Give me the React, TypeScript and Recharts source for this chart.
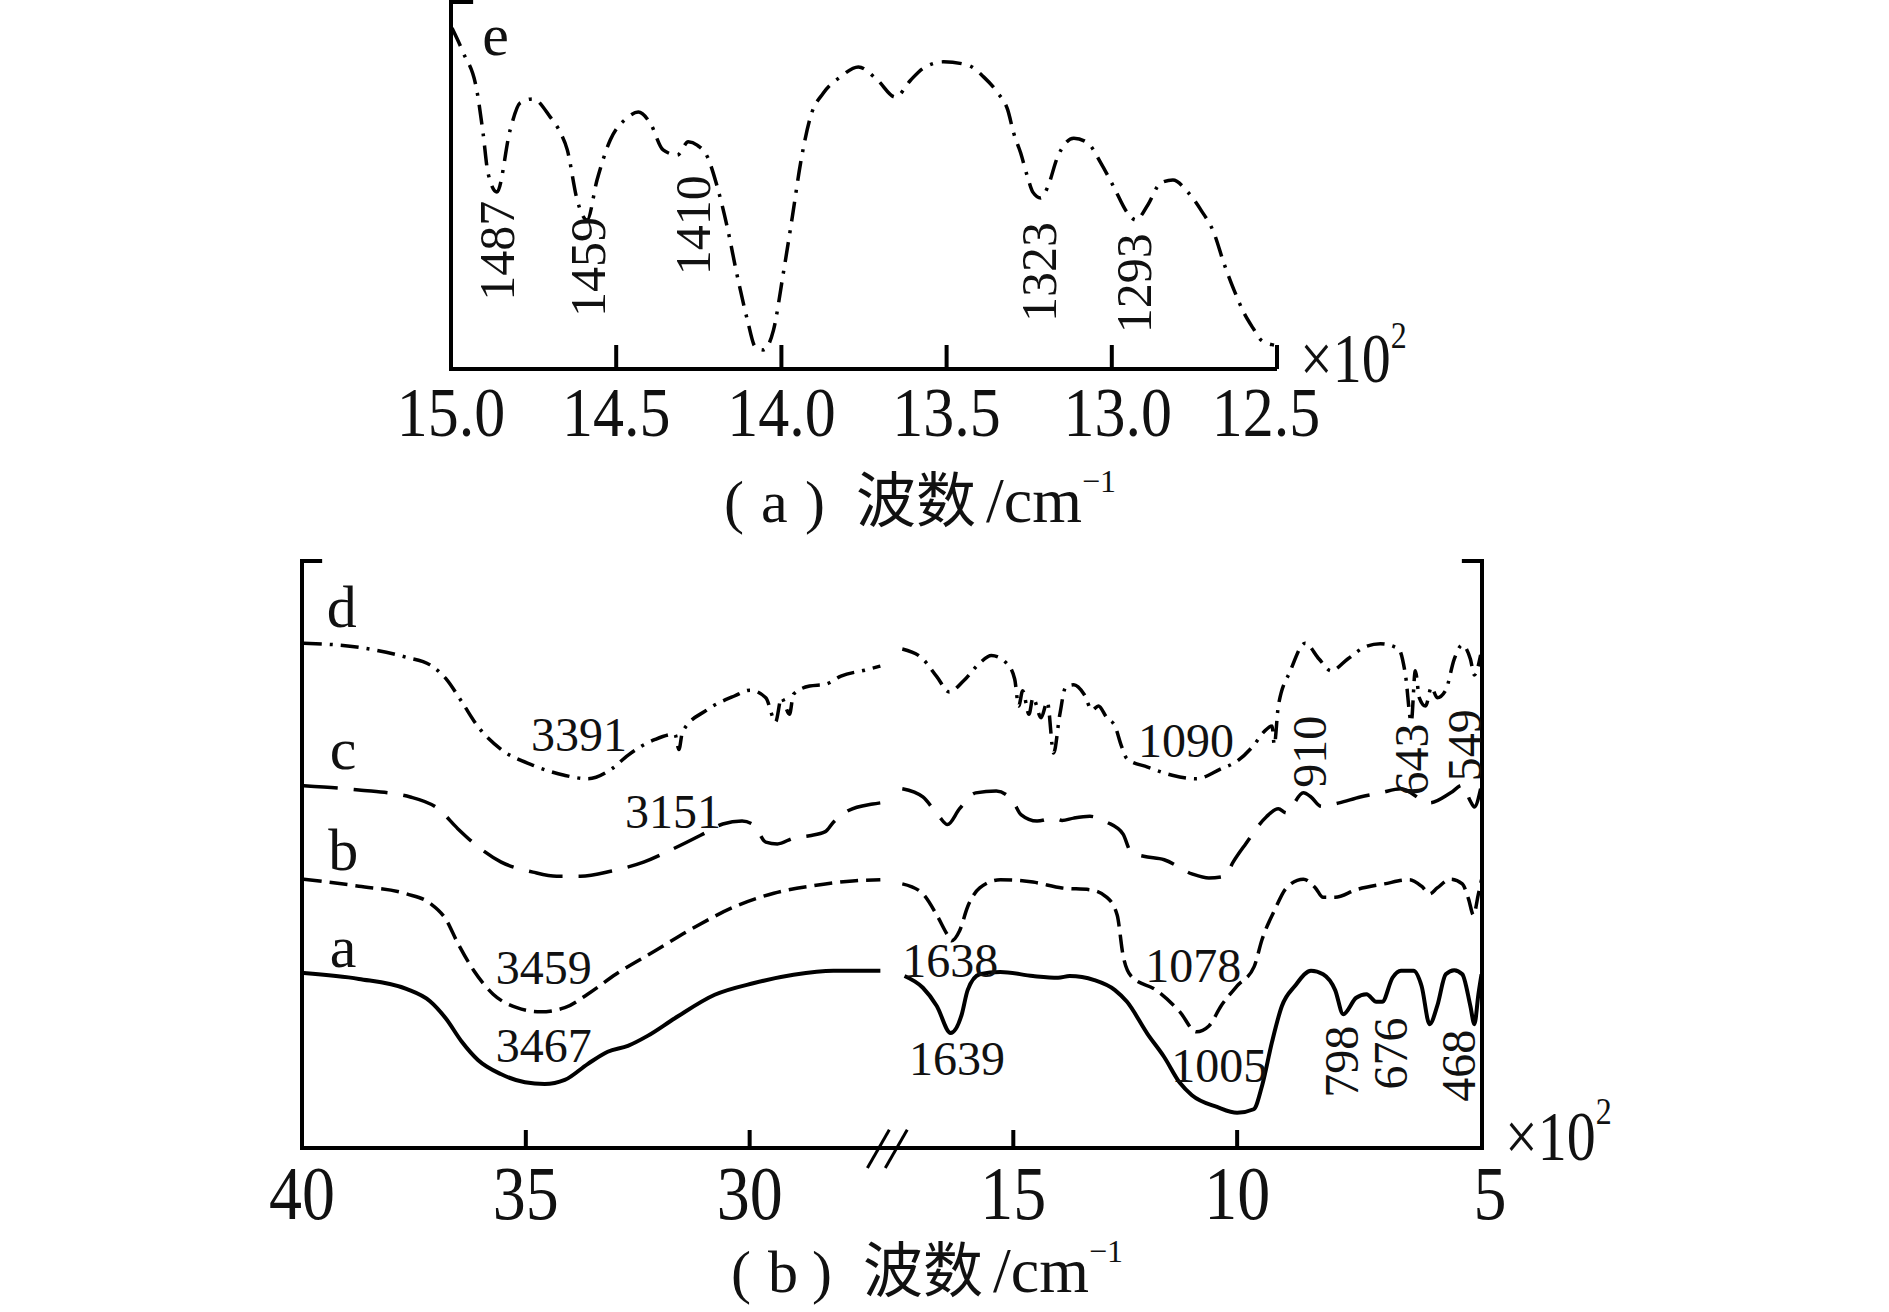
import React from "react";
import { LineChart, Line, XAxis, YAxis, ReferenceLine, ReferenceDot } from "recharts";

const SERIF = "'Liberation Serif', 'Times New Roman', serif";
const CJK = "'Noto Sans CJK SC', 'Liberation Serif', serif";
const INK = "#111";

// ---------- (a) detail 1500-1250 cm-1, curve e (x in 10^2 cm-1, y = relative transmittance) ----------
const E_TICKS = [15.0, 14.5, 14.0, 13.5, 13.0, 12.5];

const CURVE_E: [number, number][] = [
  [14.997, 92.9], [14.964, 86.4], [14.921, 75.5], [14.903, 64.3], [14.888, 53.4], [14.861, 48.2],
  [14.821, 65.1], [14.791, 72.5], [14.752, 73.6], [14.7, 68.7], [14.67, 64.6], [14.648, 59.7],
  [14.618, 46.0], [14.588, 40.6], [14.558, 51.5], [14.518, 62.4], [14.467, 68.4], [14.433, 70.0],
  [14.397, 67.0], [14.358, 59.7], [14.315, 58.3], [14.282, 61.9], [14.255, 61.0], [14.224, 57.8],
  [14.194, 49.6], [14.164, 38.7], [14.133, 25.1], [14.103, 13.4], [14.079, 6.0], [14.055, 5.2],
  [14.024, 10.6], [13.994, 26.2], [13.967, 41.4], [13.942, 56.1], [13.912, 68.7], [13.873, 75.2],
  [13.821, 79.6], [13.767, 82.3], [13.709, 78.7], [13.655, 74.1], [13.609, 78.7], [13.57, 82.0],
  [13.509, 83.7], [13.436, 82.8], [13.388, 79.6], [13.345, 75.2], [13.315, 70.6], [13.297, 64.3],
  [13.276, 58.9], [13.255, 52.3], [13.239, 48.2], [13.215, 46.6], [13.194, 49.6], [13.164, 57.8],
  [13.115, 62.9], [13.073, 61.6], [13.033, 56.1], [12.994, 49.6], [12.952, 42.5], [12.927, 40.6],
  [12.891, 44.7], [12.852, 50.7], [12.815, 51.5], [12.77, 48.2], [12.73, 43.3], [12.691, 37.1],
  [12.661, 28.9], [12.63, 21.5], [12.6, 15.3], [12.573, 11.2], [12.548, 7.9], [12.509, 6.5],
];

const E_PEAKS = [
  { text: "1487", w: 14.861, v: 32.2 },
  { text: "1459", w: 14.585, v: 27.8 },
  { text: "1410", w: 14.267, v: 39.2 },
  { text: "1323", w: 13.221, v: 26.4 },
  { text: "1293", w: 12.933, v: 23.4 },
];
const E_NAME = { text: "e", w: 14.865, v: 85.6 };

// ---------- (b) full spectra a-d, axis broken between ~2700 and ~1750 cm-1 ----------
const B_TICK_LABELS = ["40", "35", "30", "15", "10", "5"];
const B_TICK_WAVES = [40, 35, 30, 15, 10, 4.53]; // the "5" sits at the end of the axis

const CURVE_A: [number, number][] = [
  [39.96, 29.8], [38.73, 28.8], [37.67, 27.1], [37.14, 25.0], [36.79, 22.1], [36.43, 18.1],
  [36.07, 15.0], [35.56, 12.6], [35.02, 11.2], [34.58, 10.9], [34.13, 11.6], [33.62, 14.3],
  [33.17, 16.4], [32.72, 17.4], [32.28, 19.1], [31.67, 22.1], [30.78, 26.1], [29.9, 28.1],
  [29.02, 29.5], [28.13, 30.2], [27.08, 30.2],
  [17.43, 29.3], [17.02, 27.3], [16.71, 24.2], [16.4, 19.6], [16.15, 22.8], [16.02, 26.9],
  [15.75, 29.6], [15.29, 30.0], [14.56, 29.3], [14.0, 29.0], [13.74, 29.3], [13.19, 28.6],
  [12.73, 26.9], [12.46, 24.9], [12.0, 19.4], [11.63, 15.5], [11.28, 11.1], [11.01, 9.0],
  [10.45, 7.0], [10.0, 6.0], [9.63, 6.6], [9.44, 10.7], [9.22, 18.1], [9.0, 24.2], [8.71, 27.6],
  [8.35, 30.2], [8.08, 29.6], [7.81, 26.9], [7.63, 22.8], [7.34, 25.6], [7.11, 26.2], [6.89, 24.9],
  [6.76, 24.9], [6.53, 29.0], [6.34, 30.2], [6.06, 30.2], [5.88, 27.6], [5.7, 21.1], [5.53, 24.2],
  [5.34, 29.6], [5.15, 30.3], [4.97, 29.6], [4.79, 24.2], [4.7, 21.1], [4.61, 26.2], [4.54, 29.6],
];

const CURVE_B: [number, number][] = [
  [39.96, 45.8], [38.73, 44.6], [37.67, 43.3], [37.14, 41.7], [36.79, 39.0], [36.52, 34.9],
  [36.16, 30.2], [35.73, 26.2], [35.2, 23.9], [34.67, 23.2], [34.13, 23.9], [33.62, 26.2],
  [32.99, 29.6], [32.11, 33.6], [31.23, 37.6], [30.34, 41.1], [29.46, 43.4], [28.57, 44.7],
  [27.7, 45.5], [27.08, 45.7],
  [17.48, 45.0], [17.02, 43.3], [16.71, 39.7], [16.47, 36.3], [16.38, 35.3], [16.2, 37.0],
  [16.02, 41.1], [15.75, 44.3], [15.29, 45.7], [14.56, 45.3], [13.91, 44.3], [13.29, 44.0],
  [12.91, 42.7], [12.68, 39.7], [12.55, 32.9], [12.37, 29.3], [11.81, 26.9], [11.28, 23.2],
  [10.91, 19.8], [10.63, 20.8], [10.36, 24.2], [10.0, 27.6], [9.62, 30.9], [9.44, 35.6],
  [9.17, 40.4], [8.9, 44.3], [8.52, 45.8], [8.25, 44.3], [8.08, 42.7], [7.81, 42.7], [7.34, 44.0],
  [6.71, 45.0], [6.15, 45.7], [5.88, 44.6], [5.7, 43.3], [5.53, 44.3], [5.23, 45.8], [4.97, 45.0],
  [4.83, 42.4], [4.72, 39.7], [4.61, 43.3], [4.54, 45.7],
];

const CURVE_C: [number, number][] = [
  [39.96, 61.7], [38.73, 61.0], [37.58, 59.8], [36.96, 57.8], [36.52, 54.4], [36.08, 51.4],
  [35.55, 48.7], [34.84, 47.0], [34.31, 46.3], [33.78, 46.3], [33.08, 47.2], [32.37, 48.7],
  [31.67, 51.1], [30.96, 53.8], [30.6, 55.2], [30.17, 55.7], [29.9, 55.0], [29.64, 52.1],
  [29.38, 51.8], [29.02, 52.8], [28.66, 53.2], [28.31, 53.9], [28.13, 55.5], [27.79, 57.5],
  [27.25, 58.6], [27.08, 58.8],
  [17.48, 61.2], [17.02, 59.8], [16.66, 56.5], [16.47, 55.1], [16.2, 57.8], [15.84, 60.5],
  [15.38, 60.8], [15.01, 59.1], [14.83, 56.8], [14.47, 55.7], [14.1, 56.2], [13.91, 55.8],
  [13.65, 56.2], [13.29, 56.5], [12.91, 55.5], [12.55, 53.5], [12.37, 50.4], [12.09, 49.7],
  [11.63, 49.1], [11.01, 46.7], [10.63, 46.0], [10.27, 46.3], [10.09, 48.7], [9.81, 51.8],
  [9.35, 56.4], [9.08, 57.8], [8.9, 57.1], [8.81, 57.8], [8.52, 60.5], [8.35, 59.8], [8.12, 58.2],
  [7.72, 58.8], [7.25, 59.8], [6.8, 60.5], [6.34, 61.2], [5.7, 58.8], [5.23, 60.5], [4.97, 61.8],
  [4.79, 59.1], [4.7, 58.1], [4.56, 61.2],
];

const CURVE_D: [number, number][] = [
  [39.96, 86.0], [38.73, 85.3], [37.67, 83.6], [37.14, 82.3], [36.79, 80.0], [36.43, 76.0],
  [36.08, 71.9], [35.55, 67.9], [34.84, 65.2], [34.14, 63.5], [33.62, 62.9], [33.08, 64.6],
  [32.72, 66.9], [32.11, 69.6], [31.67, 70.5], [31.58, 67.9], [31.5, 70.9], [30.96, 74.6],
  [30.34, 77.0], [29.99, 78.0], [29.64, 76.7], [29.42, 72.6], [29.29, 76.7], [29.11, 73.9],
  [29.02, 77.3], [28.66, 78.7], [28.31, 79.0], [27.96, 80.4], [27.43, 81.4], [27.08, 82.1],
  [17.48, 85.0], [17.02, 83.3], [16.71, 80.3], [16.43, 77.7], [16.11, 79.6], [15.75, 82.6],
  [15.49, 83.9], [15.15, 82.6], [14.97, 79.9], [14.88, 75.3], [14.79, 77.9], [14.65, 73.9],
  [14.56, 76.7], [14.38, 73.3], [14.24, 76.0], [14.1, 67.3], [13.96, 73.9], [13.83, 78.5],
  [13.65, 78.9], [13.42, 77.3], [13.24, 74.6], [13.1, 75.3], [12.91, 73.3], [12.73, 71.9],
  [12.59, 68.6], [12.46, 66.3], [12.0, 64.9], [11.45, 63.5], [10.91, 62.9], [10.36, 64.6],
  [10.0, 65.9], [9.63, 68.6], [9.4, 70.9], [9.22, 71.9], [9.17, 68.7], [9.08, 75.3], [8.81, 81.3],
  [8.48, 86.0], [8.17, 83.3], [7.9, 81.3], [7.53, 83.3], [7.16, 85.3], [6.8, 85.9], [6.39, 85.0],
  [6.24, 80.6], [6.11, 72.6], [6.02, 81.3], [5.93, 76.7], [5.79, 75.3], [5.66, 78.5], [5.53, 76.7],
  [5.34, 78.0], [5.15, 83.3], [4.97, 85.7], [4.79, 83.3], [4.7, 80.6], [4.56, 84.0],
];

const B_PEAKS = [
  { text: "3391", w: 33.81, v: 70.4, rotate: false },
  { text: "3151", w: 31.71, v: 57.3, rotate: false },
  { text: "3459", w: 34.6, v: 30.7, rotate: false },
  { text: "3467", w: 34.6, v: 17.5, rotate: false },
  { text: "1638", w: 16.41, v: 31.9, rotate: false },
  { text: "1639", w: 16.26, v: 15.3, rotate: false },
  { text: "1090", w: 11.14, v: 69.4, rotate: false },
  { text: "1078", w: 10.98, v: 31.1, rotate: false },
  { text: "1005", w: 10.4, v: 14.1, rotate: false },
  { text: "910", w: 8.39, v: 67.5, rotate: true },
  { text: "643", w: 6.09, v: 66.2, rotate: true },
  { text: "549", w: 4.92, v: 68.6, rotate: true },
  { text: "798", w: 7.66, v: 14.7, rotate: true },
  { text: "676", w: 6.58, v: 16.1, rotate: true },
  { text: "468", w: 5.04, v: 14.0, rotate: true },
];

const B_NAMES = [
  { text: "d", w: 39.11, v: 88.8 },
  { text: "c", w: 39.08, v: 64.6 },
  { text: "b", w: 39.08, v: 47.4 },
  { text: "a", w: 39.08, v: 30.9 },
];

// broken axis: 40..27 on the left, 17.5..4.5 on the right, same scale
const BREAK_SHIFT = 9.11;
const toU = (w: number) => (w > 22 ? 40 - w : 40 - BREAK_SHIFT - w);
const U_MAX = toU(4.53);
const B_TICKS_U = B_TICK_WAVES.map(toU);

function buildSeries(points: [number, number][]) {
  const rows: { u: number; v: number | null }[] = [];
  points.forEach(([w, v], i) => {
    if (i > 0 && points[i - 1][0] > 22 && w <= 22) {
      rows.push({ u: (toU(points[i - 1][0]) + toU(w)) / 2, v: null });
    }
    rows.push({ u: toU(w), v });
  });
  return rows;
}

const dataE = CURVE_E.map(([w, v]) => ({ w, v }));
const dataA = buildSeries(CURVE_A);
const dataB = buildSeries(CURVE_B);
const dataC = buildSeries(CURVE_C);
const dataD = buildSeries(CURVE_D);

function makeLabel(text: string, size: number, rotate: boolean, centered: boolean) {
  return (props: any) => {
    const vb = props.viewBox ?? props;
    const cx = vb.x + (vb.width ?? 0) / 2;
    const cy = vb.y + (vb.height ?? 0) / 2;
    return (
      <text
        x={cx}
        y={cy}
        dy={centered ? "0.34em" : 0}
        textAnchor="middle"
        fontFamily={SERIF}
        fontSize={size}
        fill={INK}
        transform={rotate ? `rotate(-90 ${cx} ${cy})` : undefined}
      >
        {text}
      </text>
    );
  };
}

function TopTick({ x, y, payload }: any) {
  const value = Number(payload.value);
  const inner = Math.abs(value - 15) > 0.01;
  // the printed labels sit slightly off their ticks in the original
  const shift = Math.abs(value - 12.5) < 0.01 ? -11 : Math.abs(value - 13) < 0.01 ? 6 : 0;
  return (
    <g>
      {inner && <line x1={x} x2={x} y1={y} y2={y - 24} stroke="#000" strokeWidth={4} />}
      <g transform={`translate(${x + shift},${y + 67}) scale(1,1.12)`}>
        <text textAnchor="middle" fontFamily={SERIF} fontSize={62} fill={INK}>
          {value.toFixed(1)}
        </text>
      </g>
    </g>
  );
}

function BottomTick({ x, y, payload }: any) {
  let idx = 0;
  B_TICKS_U.forEach((u, i) => {
    if (Math.abs(u - payload.value) < Math.abs(B_TICKS_U[idx] - payload.value)) idx = i;
  });
  const inner = idx > 0 && idx < B_TICKS_U.length - 1;
  const shift = idx === B_TICKS_U.length - 1 ? 8 : 0;
  return (
    <g>
      {inner && <line x1={x} x2={x} y1={y} y2={y - 18} stroke="#000" strokeWidth={4} />}
      <g transform={`translate(${x + shift},${y + 71}) scale(1,1.15)`}>
        <text textAnchor="middle" fontFamily={SERIF} fontSize={66} fill={INK}>
          {B_TICK_LABELS[idx]}
        </text>
      </g>
    </g>
  );
}

function Caption({ x, y, letter }: { x: number; y: number; letter: string }) {
  return (
    <text y={y} fontFamily={SERIF} fontSize={60} fill={INK}>
      <tspan x={x}>(</tspan>
      <tspan x={x + 37}>{letter}</tspan>
      <tspan x={x + 81}>)</tspan>
      <tspan x={x + 132} fontFamily={CJK} fontSize={60}>波数</tspan>
      <tspan x={x + 262} fontSize={64}>/cm</tspan>
      <tspan dy={-30} fontSize={32}>−1</tspan>
    </text>
  );
}

const axisStroke = { stroke: "#000", strokeWidth: 4 };

export default function App() {
  return (
    <div style={{ position: "absolute", left: 0, top: 0, width: 1889, height: 1312, background: "#fff" }}>
      {/* (a) */}
      <div style={{ position: "absolute", left: 0, top: 0 }}>
        <LineChart width={1889} height={560} margin={{ top: 2, right: 612, bottom: 190, left: 451 }}>
          <XAxis
            dataKey="w"
            type="number"
            domain={[12.5, 15]}
            reversed
            ticks={E_TICKS}
            interval={0}
            allowDataOverflow
            height={1}
            axisLine={axisStroke}
            tickLine={false}
            tickSize={0}
            tickMargin={0}
            tick={<TopTick />}
          />
          <YAxis type="number" domain={[0, 100]} hide width={0} />
          <ReferenceLine x={15} stroke="#000" strokeWidth={4} strokeLinecap="square" />
          <ReferenceLine
            segment={[{ x: 15, y: 100 }, { x: 14.933, y: 100 }]}
            stroke="#000"
            strokeWidth={4}
            ifOverflow="visible"
          />
          <Line
            data={dataE}
            dataKey="v"
            type="monotone"
            stroke="#000"
            strokeWidth={3.5}
            strokeDasharray="20 9 3 9"
            dot={false}
            activeDot={false}
            isAnimationActive={false}
          />
          {E_PEAKS.map((p) => (
            <ReferenceDot key={p.text} x={p.w} y={p.v} r={1} fill="none" stroke="none"
              label={makeLabel(p.text, 50, true, true)} />
          ))}
          <ReferenceDot x={E_NAME.w} y={E_NAME.v} r={1} fill="none" stroke="none"
            label={makeLabel(E_NAME.text, 60, false, false)} />
        </LineChart>
      </div>

      {/* (b) */}
      <div style={{ position: "absolute", left: 0, top: 540 }}>
        <LineChart width={1889} height={772} margin={{ top: 21, right: 407, bottom: 163, left: 302 }}>
          <XAxis
            dataKey="u"
            type="number"
            domain={[0, U_MAX]}
            ticks={B_TICKS_U}
            interval={0}
            allowDataOverflow
            height={1}
            axisLine={axisStroke}
            tickLine={false}
            tickSize={0}
            tickMargin={0}
            tick={<BottomTick />}
          />
          <YAxis type="number" domain={[0, 100]} hide width={0} />
          <ReferenceLine x={0} stroke="#000" strokeWidth={4} strokeLinecap="square" />
          <ReferenceLine x={U_MAX} stroke="#000" strokeWidth={4} strokeLinecap="square" />
          <ReferenceLine segment={[{ x: 0, y: 100 }, { x: 0.45, y: 100 }]} stroke="#000" strokeWidth={4} ifOverflow="visible" />
          <ReferenceLine segment={[{ x: U_MAX - 0.45, y: 100 }, { x: U_MAX, y: 100 }]} stroke="#000" strokeWidth={4} ifOverflow="visible" />
          <ReferenceLine segment={[{ x: 12.63, y: -3.4 }, { x: 13.12, y: 3.1 }]} stroke="#000" strokeWidth={3} ifOverflow="visible" />
          <ReferenceLine segment={[{ x: 13.03, y: -3.4 }, { x: 13.52, y: 3.1 }]} stroke="#000" strokeWidth={3} ifOverflow="visible" />
          <Line data={dataA} dataKey="v" type="monotone" stroke="#000" strokeWidth={4}
            dot={false} activeDot={false} connectNulls={false} isAnimationActive={false} />
          <Line data={dataB} dataKey="v" type="monotone" stroke="#000" strokeWidth={3.5} strokeDasharray="18 8"
            dot={false} activeDot={false} connectNulls={false} isAnimationActive={false} />
          <Line data={dataC} dataKey="v" type="monotone" stroke="#000" strokeWidth={3.5} strokeDasharray="34 16"
            dot={false} activeDot={false} connectNulls={false} isAnimationActive={false} />
          <Line data={dataD} dataKey="v" type="monotone" stroke="#000" strokeWidth={3.5} strokeDasharray="18 8 3 8"
            dot={false} activeDot={false} connectNulls={false} isAnimationActive={false} />
          {B_PEAKS.map((p) => (
            <ReferenceDot key={p.text} x={toU(p.w)} y={p.v} r={1} fill="none" stroke="none"
              label={makeLabel(p.text, 48, p.rotate, true)} />
          ))}
          {B_NAMES.map((n) => (
            <ReferenceDot key={n.text} x={toU(n.w)} y={n.v} r={1} fill="none" stroke="none"
              label={makeLabel(n.text, 60, false, false)} />
          ))}
        </LineChart>
      </div>

      {/* captions and unit multipliers */}
      <svg width={1889} height={1312} style={{ position: "absolute", left: 0, top: 0, pointerEvents: "none" }}>
        <g transform="translate(1300,382) scale(1,1.2)">
          <text fontFamily={SERIF} fontSize={58} fill={INK}>
            ×10<tspan dy={-28} fontSize={32}>2</tspan>
          </text>
        </g>
        <g transform="translate(1505,1160) scale(1,1.2)">
          <text fontFamily={SERIF} fontSize={58} fill={INK}>
            ×10<tspan dy={-30} fontSize={32}>2</tspan>
          </text>
        </g>
        <Caption x={724} y={522} letter="a" />
        <Caption x={731} y={1292} letter="b" />
      </svg>
    </div>
  );
}
